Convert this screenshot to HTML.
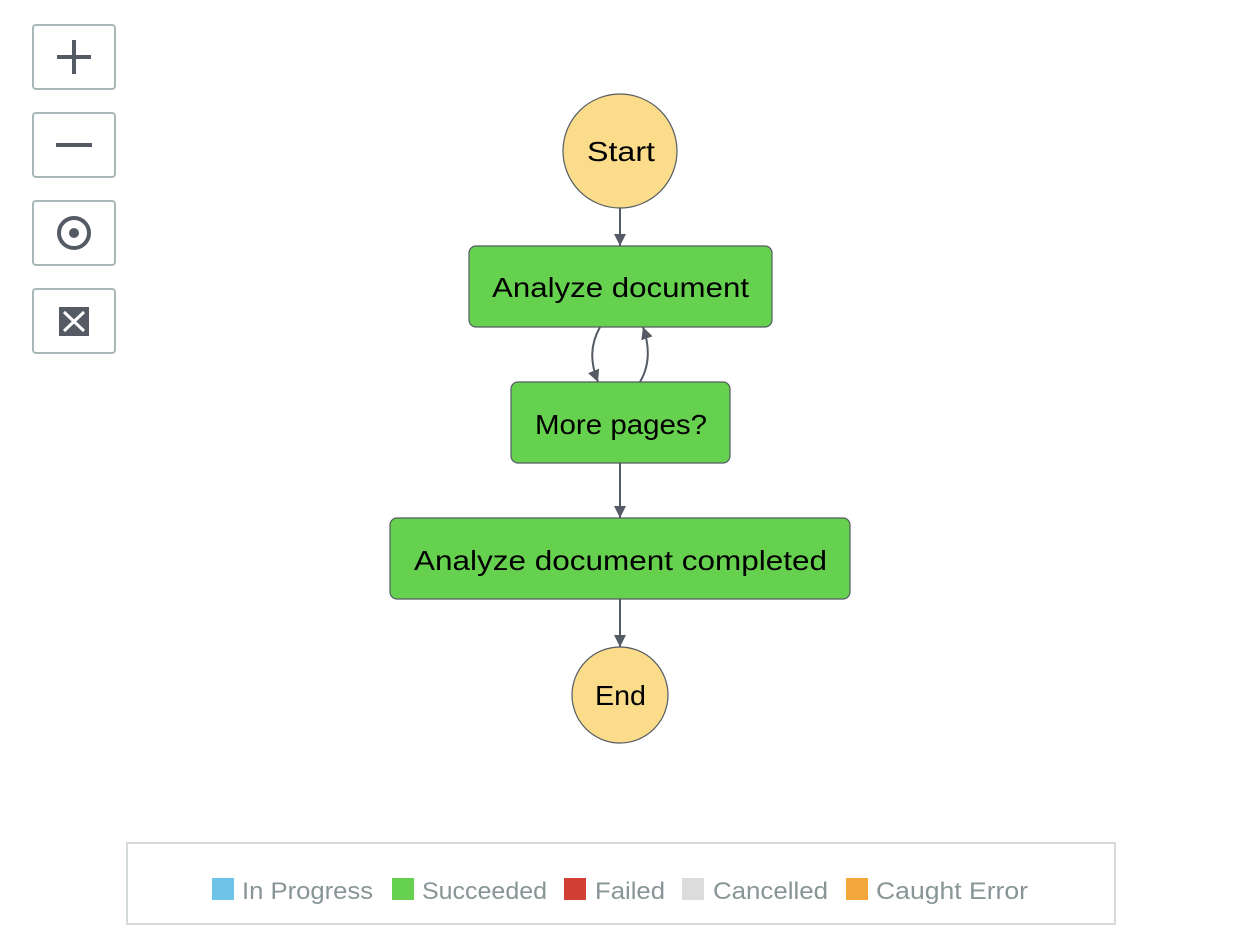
<!DOCTYPE html>
<html><head><style>
body{margin:0;width:1246px;height:936px;background:#fff;overflow:hidden;font-family:"Liberation Sans",sans-serif}
</style></head><body>
<svg width="1246" height="936" xmlns="http://www.w3.org/2000/svg">
<defs>
<marker id="b" viewBox="0 0 12 12" refX="12" refY="6" markerWidth="12" markerHeight="12" orient="auto" markerUnits="userSpaceOnUse"><path d="M0,0 L12,6 L0,12 z" fill="#545b64"/></marker></defs>
<g fill="#fff" stroke="#aab7b8" stroke-width="2">
<rect x="33" y="25" width="82" height="64" rx="3"/>
<rect x="33" y="113" width="82" height="64" rx="3"/>
<rect x="33" y="201" width="82" height="64" rx="3"/>
<rect x="33" y="289" width="82" height="64" rx="3"/>
</g>
<g stroke="#545b64" stroke-width="4" fill="none">
<path d="M57,57 H91 M74,40 V74"/>
<path d="M56,145 H92"/>
<circle cx="74" cy="233" r="15"/>
</g>
<circle cx="74" cy="233" r="5" fill="#545b64"/>
<g fill="#545b64"><rect x="59" y="307" width="30" height="29"/></g>
<g stroke="#fff" stroke-width="3"><path d="M64,312 L84,331 M84,312 L64,331"/></g>
<g stroke="#545b64" stroke-width="2" fill="none">
<path d="M620,208 V246" marker-end="url(#b)"/>
<path d="M600,327 C590,345 590,362 598,382" marker-end="url(#b)"/>
<path d="M640,382 C650,365 650,347 643,327" marker-end="url(#b)"/>
<path d="M620,463 V518" marker-end="url(#b)"/>
<path d="M620,599 V647" marker-end="url(#b)"/>
</g>
<g stroke="#545b64" stroke-width="1.2">
<circle cx="620" cy="151" r="57" fill="#fbdc8b"/>
<rect x="469" y="246" width="303" height="81" rx="7" fill="#66d14f"/>
<rect x="511" y="382" width="219" height="81" rx="7" fill="#66d14f"/>
<rect x="390" y="518" width="460" height="81" rx="7" fill="#66d14f"/>
<circle cx="620" cy="695" r="48" fill="#fbdc8b"/>
</g>
<g font-family="Liberation Sans, sans-serif" font-size="28" fill="#000" lengthAdjust="spacingAndGlyphs">
<text x="587" y="161" textLength="68" lengthAdjust="spacingAndGlyphs">Start</text>
<text x="492" y="297" textLength="257" lengthAdjust="spacingAndGlyphs">Analyze document</text>
<text x="535" y="434" textLength="172" lengthAdjust="spacingAndGlyphs">More pages?</text>
<text x="414" y="570" textLength="413" lengthAdjust="spacingAndGlyphs">Analyze document completed</text>
<text x="595" y="705" textLength="51" lengthAdjust="spacingAndGlyphs">End</text>
</g>
<rect x="127" y="843" width="988" height="81" fill="#fff" stroke="#d5dbdb" stroke-width="2"/>
<g font-family="Liberation Sans, sans-serif" font-size="24" fill="#879596">
<rect x="212" y="878" width="22" height="22" fill="#6dc4e8"/><text x="242" y="899" textLength="131" lengthAdjust="spacingAndGlyphs">In Progress</text>
<rect x="392" y="878" width="22" height="22" fill="#66d14f"/><text x="422" y="899" textLength="125" lengthAdjust="spacingAndGlyphs">Succeeded</text>
<rect x="564" y="878" width="22" height="22" fill="#d13f35"/><text x="595" y="899" textLength="70" lengthAdjust="spacingAndGlyphs">Failed</text>
<rect x="682" y="878" width="22" height="22" fill="#dcdcdc"/><text x="713" y="899" textLength="115" lengthAdjust="spacingAndGlyphs">Cancelled</text>
<rect x="846" y="878" width="22" height="22" fill="#f4a83c"/><text x="876" y="899" textLength="152" lengthAdjust="spacingAndGlyphs">Caught Error</text>
</g>
</svg>
</body></html>
